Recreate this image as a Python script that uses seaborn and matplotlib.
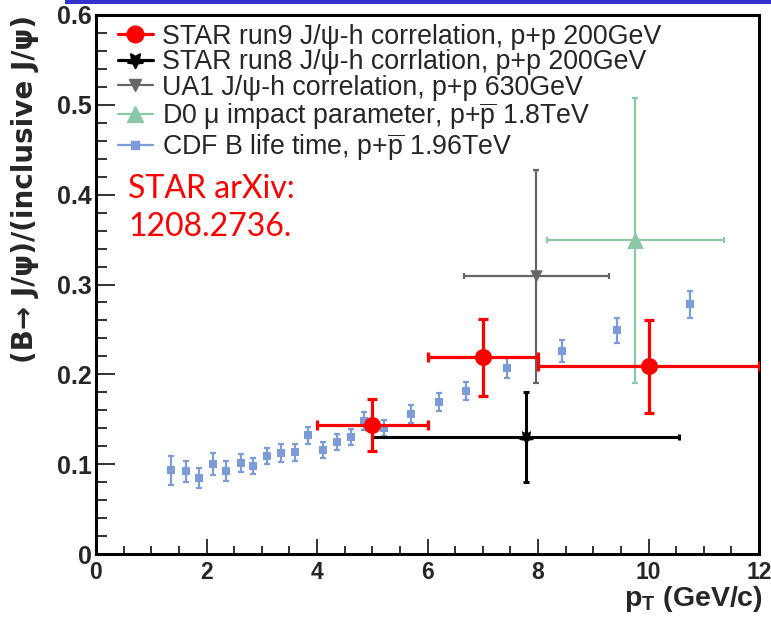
import numpy as np
import pandas as pd
import matplotlib
matplotlib.use("Agg")
import matplotlib.pyplot as plt
import seaborn as sns
from matplotlib.lines import Line2D
from matplotlib.patches import Rectangle
from matplotlib.ticker import MultipleLocator

# ---------------- data ----------------
cdf_pt = [1.36, 1.63, 1.86, 2.11, 2.36, 2.62, 2.85, 3.10, 3.35, 3.60, 3.84, 4.11,
          4.36, 4.61, 4.85, 5.21, 5.71, 6.21, 6.70, 7.43, 8.43, 9.43, 10.76]
cdf_ratio = [0.093, 0.092, 0.085, 0.100, 0.092, 0.101, 0.098, 0.109, 0.112, 0.113,
             0.132, 0.116, 0.125, 0.130, 0.148, 0.140, 0.156, 0.169, 0.181, 0.207,
             0.226, 0.249, 0.278]
cdf_err = [0.016, 0.012, 0.011, 0.012, 0.011, 0.010, 0.009, 0.009, 0.010, 0.009,
           0.009, 0.009, 0.009, 0.009, 0.010, 0.009, 0.010, 0.010, 0.010, 0.011,
           0.012, 0.014, 0.015]

run9_pt = [5.0, 7.0, 10.0]
run9_ratio = [0.144, 0.219, 0.209]
run9_xerr = [1.0, 1.0, 2.0]
run9_yerr = [0.029, 0.043, 0.052]

run8_pt = [7.78]
run8_ratio = [0.130]
run8_xerr = [2.78]
run8_yerr = [0.050]

ua1_pt = [7.97]
ua1_ratio = [0.309]
ua1_xerr = [1.31]
ua1_yerr = [0.119]

d0_pt = [9.76]
d0_ratio = [0.349]
d0_xerr = [1.60]
d0_yerr = [0.159]

labels = [
    "STAR run9 J/\u03c8-h correlation, p+p 200GeV",
    "STAR run8 J/\u03c8-h corrlation, p+p 200GeV",
    "UA1 J/\u03c8-h correlation, p+p 630GeV",
    "D0 \u03bc impact parameter, p+$\\overline{\\mathrm{p}}$ 1.8TeV",
    "CDF B life time, p+$\\overline{\\mathrm{p}}$ 1.96TeV",
]

xticks = [0, 2, 4, 6, 8, 10, 12]
yticks = [0, 0.1, 0.2, 0.3, 0.4, 0.5, 0.6]

# ---------------- style ----------------
sns.set_theme(style="ticks")
plt.rcParams["font.family"] = ["Liberation Sans", "DejaVu Sans"]
plt.rcParams["mathtext.fontset"] = "custom"
plt.rcParams["mathtext.rm"] = "Liberation Sans"
plt.rcParams["mathtext.bf"] = "Liberation Sans:bold"
plt.rcParams["mathtext.it"] = "Liberation Sans:italic"

RED = "#ff0000"
BLACK = "#000000"
GRAY = "#666666"
GREEN = "#8cc8a8"
BLUE = "#7b9cd8"

fig = plt.figure(figsize=(7.71, 6.25), dpi=100)
ax = fig.add_axes([96 / 771, 1 - 554 / 625, (759 - 96) / 771, (554 - 15) / 625])

# ---------------- data series ----------------
# UA1
ax.errorbar(ua1_pt, ua1_ratio, xerr=ua1_xerr, yerr=ua1_yerr, fmt="none",
            ecolor=GRAY, elinewidth=1.6, capsize=2.2, capthick=1.6, zorder=2)
sns.scatterplot(x=ua1_pt, y=ua1_ratio, marker="v", s=80, color=GRAY,
                edgecolor=GRAY, linewidth=0, ax=ax, zorder=3)
# D0
ax.errorbar(d0_pt, d0_ratio, xerr=d0_xerr, yerr=d0_yerr, fmt="none",
            ecolor=GREEN, elinewidth=1.6, capsize=2.2, capthick=1.6, zorder=2)
sns.scatterplot(x=d0_pt, y=d0_ratio, marker="^", s=150, color=GREEN,
                edgecolor=GREEN, linewidth=0, ax=ax, zorder=3)
# CDF
ax.errorbar(cdf_pt, cdf_ratio, yerr=cdf_err, fmt="none",
            ecolor=BLUE, elinewidth=1.6, capsize=2.5, capthick=1.6, zorder=4)
sns.scatterplot(x=cdf_pt, y=cdf_ratio, marker="s", s=36, color=BLUE,
                edgecolor=BLUE, linewidth=0, ax=ax, zorder=5)
# STAR run8
ax.errorbar(run8_pt, run8_ratio, xerr=run8_xerr, yerr=run8_yerr, fmt="none",
            ecolor=BLACK, elinewidth=2.2, capsize=2.5, capthick=2.2, zorder=6)
sns.scatterplot(x=run8_pt, y=run8_ratio, marker=(5, 1, 180), s=130, color=BLACK,
                edgecolor=BLACK, linewidth=0, ax=ax, zorder=7)
# STAR run9
ax.errorbar(run9_pt, run9_ratio, xerr=run9_xerr, yerr=run9_yerr, fmt="none",
            ecolor=RED, elinewidth=2.3, capsize=3.4, capthick=2.3, zorder=8)
sns.scatterplot(x=run9_pt, y=run9_ratio, marker="o", s=150, color=RED,
                edgecolor=RED, linewidth=0, ax=ax, zorder=9)

# ---------------- axes ----------------
ax.set_xlim(xticks[0], xticks[-1])
ax.set_ylim(yticks[0], yticks[-1])
ax.set_xticks(xticks)
ax.set_yticks(yticks)
ax.set_xticklabels([str(t) for t in xticks])
ax.set_yticklabels(["0"] + [f"{t:.1f}" for t in yticks[1:]])
ax.xaxis.set_minor_locator(MultipleLocator(0.5))
ax.yaxis.set_minor_locator(MultipleLocator(0.02))
ax.tick_params(axis="both", which="both", direction="in", top=False, right=False,
               color="#222222")
ax.tick_params(axis="x", which="major", length=11, width=1.3, pad=5,
               labelsize=16.5)
ax.tick_params(axis="x", which="minor", length=6, width=1.3)
ax.tick_params(axis="y", which="major", length=14, width=1.3, pad=3,
               labelsize=18)
ax.tick_params(axis="y", which="minor", length=8, width=1.3)
for lab in ax.get_xticklabels() + ax.get_yticklabels():
    lab.set_fontweight("bold")
for sp in ax.spines.values():
    sp.set_linewidth(2.2)
    sp.set_color("black")

ax.set_ylabel("(B\u2192 J/\u03c8)/(inclusive J/\u03c8)", fontsize=20,
              fontweight="bold", loc="top", family=["DejaVu Sans"])
ax.yaxis.set_label_coords(-0.086, 1.0)
ax.set_xlabel(r"$\mathbf{p}_{\mathbf{T}}$ (GeV/c)", fontsize=20.5,
              fontweight="bold", loc="right")
ax.xaxis.set_label_coords(1.006, -0.055)

# ---------------- legend ----------------
handles = [
    Line2D([], [], color=RED, lw=2.3, marker="o", markersize=12),
    Line2D([], [], color=BLACK, lw=2.3, marker=(5, 1, 180), markersize=12),
    Line2D([], [], color=GRAY, lw=1.6, marker="v", markersize=9),
    Line2D([], [], color=GREEN, lw=1.6, marker="^", markersize=12),
    Line2D([], [], color=BLUE, lw=1.6, marker="s", markersize=6),
]
leg = ax.legend(handles, labels, loc="upper left",
                bbox_to_anchor=(0.033, 0.984), fontsize=19.3, frameon=False,
                borderpad=0.0, borderaxespad=0.0,
                handlelength=1.3, handletextpad=0.34, labelspacing=-0.02)

# ---------------- annotation ----------------
ax.text(0.58, 0.396, "STAR arXiv:", color=RED, fontsize=23,
        family=["Lato", "DejaVu Sans"], va="baseline", ha="left", zorder=10)
ax.text(0.58, 0.354, "1208.2736.", color=RED, fontsize=23,
        family=["Lato", "DejaVu Sans"], va="baseline", ha="left", zorder=10)

# top slide bar
fig.add_artist(Rectangle((65 / 771, 1 - 4 / 625), 1 - 65 / 771, 4 / 625,
                         transform=fig.transFigure, color="#3333cc", lw=0))

fig.savefig("out.png", dpi=100)
